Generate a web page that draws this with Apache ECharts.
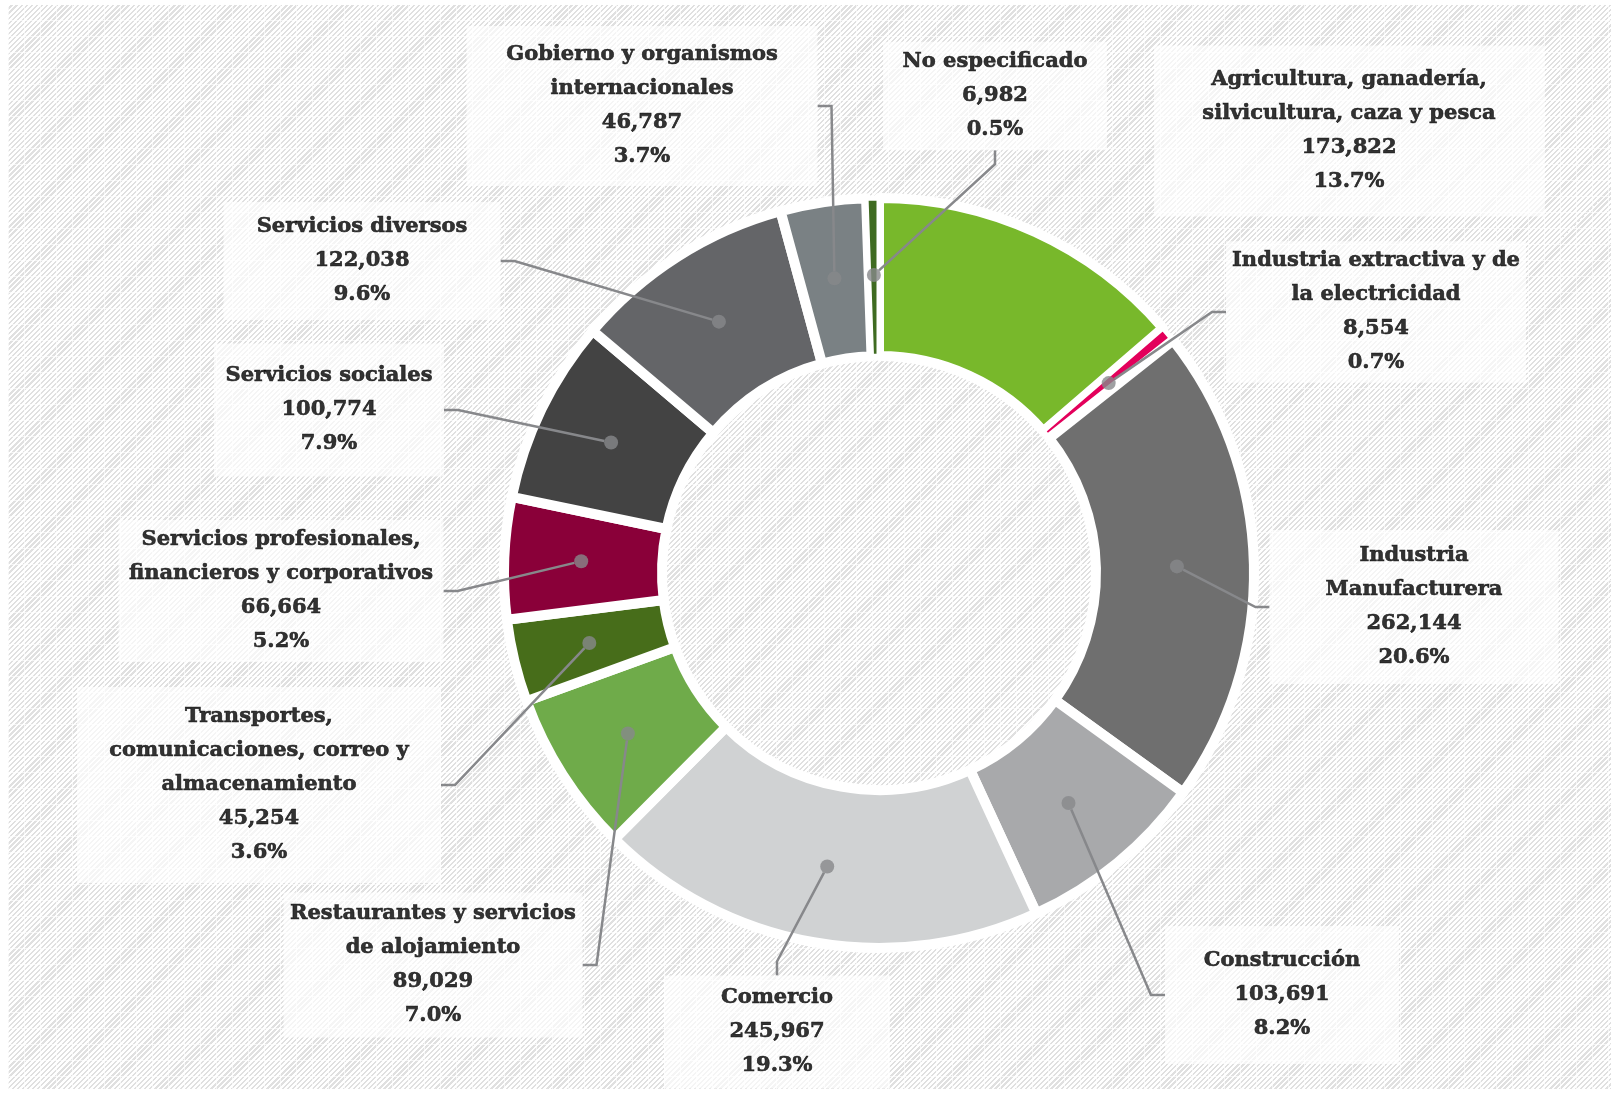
<!DOCTYPE html>
<html>
<head>
<meta charset="utf-8">
<title>Población ocupada por sector de actividad</title>
<script src="https://cdn.jsdelivr.net/npm/echarts@6/dist/echarts.min.js"></script>
<style>
  html, body { margin: 0; padding: 0; background: #fff; }
  /* fondo rayado como en la lámina original */
  #fondo {
    position: absolute; left: 8px; top: 5px; right: 8px; bottom: 5px;
    background-image:
      linear-gradient(90deg, rgba(255,255,255,0.65) 1.5px, transparent 1.5px),
      linear-gradient(0deg, rgba(255,255,255,0.65) 1.5px, transparent 1.5px),
      repeating-linear-gradient(135deg, #fff 0px, #fff 2px, #e0e0e0 2px, #e0e0e0 3.6px);
    background-size: 16px 16px, 16px 16px, auto;
  }
  #main { position: absolute; left: 0; top: 0; width: 1619px; height: 1094px; }
</style>
</head>
<body>
<div id="fondo"></div>
<div id="main"></div>
<script type="text/javascript">
  // sectores en el orden del anillo (sentido horario desde arriba)
  var sectores = [
    'Agricultura, ganadería,\nsilvicultura, caza y pesca',
    'Industria extractiva y de\nla electricidad',
    'Industria\nManufacturera',
    'Construcción',
    'Comercio',
    'Restaurantes y servicios\nde alojamiento',
    'Transportes,\ncomunicaciones, correo y\nalmacenamiento',
    'Servicios profesionales,\nfinancieros y corporativos',
    'Servicios sociales',
    'Servicios diversos',
    'Gobierno y organismos\ninternacionales',
    'No especificado'
  ];
  var ocupados = [173822, 8554, 262144, 103691, 245967, 89029, 45254, 66664, 100774, 122038, 46787, 6982];
  var colores = ['#78b82b', '#e3005b', '#6f6f6f', '#a8a9ab', '#d0d2d3', '#6fab4a',
                 '#476d1a', '#8a0039', '#434343', '#646568', '#7a8184', '#3f6b21'];

  // cajas de las etiquetas: [centro x, centro y, ancho, alto] en px
  var cajas = [
    [1349, 131, 390, 171],
    [1376, 312, 300, 139],
    [1414, 607, 289, 154],
    [1282, 995, 234, 138],
    [777, 1032, 226, 113],
    [433, 965, 299, 145],
    [259, 785, 364, 196],
    [281, 591, 325, 140],
    [329, 410, 230, 133],
    [362, 261, 277, 118],
    [642, 106, 351, 160],
    [995, 96, 224, 107]
  ];

  var centro = [879, 573];
  var altoLinea = 34;

  function miles(n) {
    return String(n).replace(/\B(?=(\d{3})+(?!\d))/g, ',');
  }

  var total = 0;
  for (var i = 0; i < ocupados.length; i++) total += ocupados[i];

  // punto de cada rebanada (mitad del arco) para la línea guía
  var puntos = [];
  var acumulado = 0;
  for (var i = 0; i < ocupados.length; i++) {
    var medio = acumulado + ocupados[i] / 2;
    acumulado += ocupados[i];
    var lineas = sectores[i].split('\n').length + 2;
    var pad = (cajas[i][3] - lineas * altoLinea) / 2;
    // el texto va un poco mas abajo que el centro de la caja
    var arriba = Math.max(0, pad + 4), abajo = Math.max(0, pad - 4);
    puntos.push({
      value: [1, medio],
      symbolSize: i === 0 ? 0 : 14,
      label: { width: cajas[i][2], padding: [arriba, 0, abajo, 0] },
      labelLine: { show: i !== 0 }
    });
  }

  var myChart = echarts.init(document.getElementById('main'));
  var option = {
    backgroundColor: 'transparent',
    animation: false,
    polar: { center: centro, radius: 298 },
    angleAxis: { type: 'value', min: 0, max: total, startAngle: 90, clockwise: true, show: false },
    radiusAxis: { type: 'value', min: 0, max: 1, show: false },
    series: [
      {
        type: 'pie',
        center: centro,
        radius: [217, 375],
        startAngle: 90,
        clockwise: true,
        silent: true,
        label: { show: false },
        labelLine: { show: false },
        itemStyle: { borderColor: '#ffffff', borderWidth: 10 },
        data: sectores.map(function (s, i) {
          // las rebanadas muy delgadas llevan borde menor para que no desaparezcan
          var borde = ocupados[i] / total < 0.01 ? 5 : 10;
          return { name: s, value: ocupados[i], itemStyle: { color: colores[i], borderWidth: borde } };
        })
      },
      {
        type: 'scatter',
        coordinateSystem: 'polar',
        symbol: 'circle',
        silent: true,
        z: 3,
        itemStyle: { color: '#87888b' },
        data: puntos,
        label: {
          show: true,
          formatter: function (p) {
            var k = p.dataIndex;
            return sectores[k] + '\n' + miles(ocupados[k]) + '\n' +
              (ocupados[k] / total * 100).toFixed(1) + '%';
          },
          fontFamily: 'DejaVu Serif',
          fontWeight: 'bold',
          fontSize: 21,
          lineHeight: altoLinea,
          color: '#000000',
          textBorderColor: '#000000',
          textBorderWidth: 0.6,
          align: 'center',
          verticalAlign: 'middle',
          backgroundColor: 'rgba(255,255,255,0.85)'
        },
        labelLine: {
          show: true,
          length2: 14,
          lineStyle: { color: '#87888b', width: 2.5 }
        },
        labelLayout: function (p) {
          var c = cajas[p.dataIndex];
          return { x: c[0], y: c[1], align: 'center', verticalAlign: 'middle' };
        }
      }
    ]
  };
  myChart.setOption(option);
</script>
</body>
</html>
